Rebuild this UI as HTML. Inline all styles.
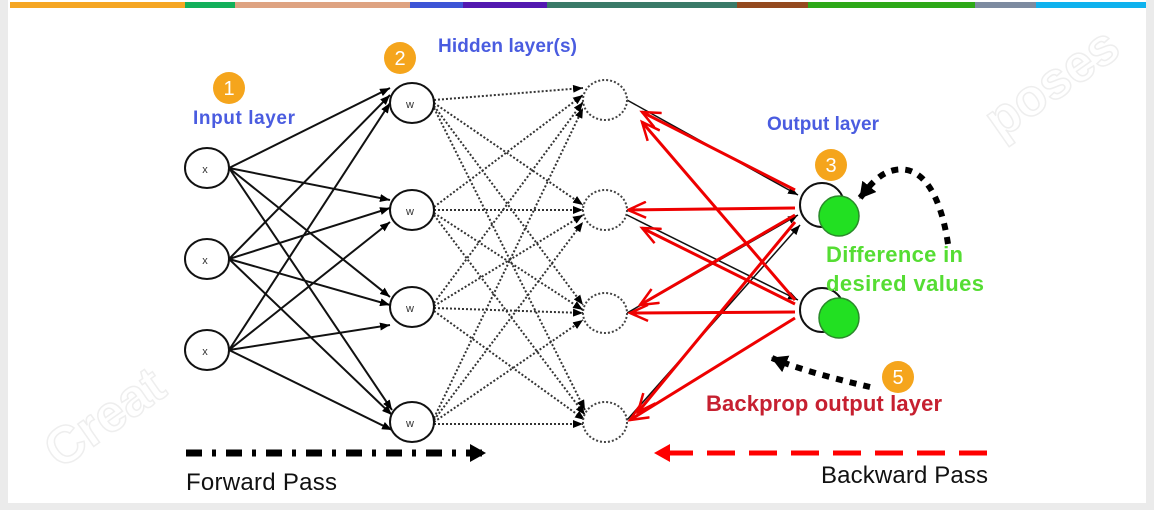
<!DOCTYPE html>
<html><head><style>
body{margin:0;background:#fff;}
.w{position:relative;width:1154px;height:510px;overflow:hidden;font-family:"Liberation Sans",sans-serif;}
</style></head><body><div class="w">
<svg width="1154" height="510" viewBox="0 0 1154 510" xmlns="http://www.w3.org/2000/svg">
<defs>
<marker id="ab" markerWidth="10" markerHeight="8" refX="10" refY="4" orient="auto" markerUnits="userSpaceOnUse"><path d="M0,0 L10,4 L0,8 z" fill="#000"/></marker>
<marker id="ar" markerWidth="22" markerHeight="18" refX="19" refY="9" orient="auto" markerUnits="userSpaceOnUse"><path d="M1,1 L19,9 L1,17" fill="none" stroke="#e00" stroke-width="2.5"/></marker>
<marker id="big" markerWidth="16" markerHeight="18" refX="15" refY="9" orient="auto" markerUnits="userSpaceOnUse"><path d="M0,0 L16,9 L0,18 z" fill="#000"/></marker>
<marker id="bigr" markerWidth="16" markerHeight="18" refX="15" refY="9" orient="auto" markerUnits="userSpaceOnUse"><path d="M0,0 L16,9 L0,18 z" fill="#f00"/></marker>
</defs>
<rect x="0" y="0" width="8" height="510" fill="#ebebeb"/>
<rect x="1146" y="0" width="8" height="510" fill="#ebebeb"/>
<rect x="0" y="503" width="1154" height="7" fill="#ebebeb"/>
<rect x="10" y="2" width="175" height="6" fill="#f5a623"/>
<rect x="185" y="2" width="50" height="6" fill="#13b05a"/>
<rect x="235" y="2" width="175" height="6" fill="#dea382"/>
<rect x="410" y="2" width="53" height="6" fill="#3d55d6"/>
<rect x="463" y="2" width="84" height="6" fill="#5319b0"/>
<rect x="547" y="2" width="190" height="6" fill="#3a7a68"/>
<rect x="737" y="2" width="71" height="6" fill="#944a1f"/>
<rect x="808" y="2" width="167" height="6" fill="#2ea818"/>
<rect x="975" y="2" width="61" height="6" fill="#7d8ba0"/>
<rect x="1036" y="2" width="110" height="6" fill="#0fb2ee"/>
<text x="60" y="470" font-size="52" font-weight="bold" fill="none" stroke="#eee" stroke-width="1.5" transform="rotate(-35 60 470)">Creat</text>
<text x="1000" y="140" font-size="52" font-weight="bold" fill="none" stroke="#eee" stroke-width="1.5" transform="rotate(-35 1000 140)">poses</text>
<g stroke="#111" stroke-width="2" marker-end="url(#ab)">
<line x1="229" y1="168" x2="390" y2="88"/><line x1="229" y1="168" x2="390" y2="200"/><line x1="229" y1="168" x2="390" y2="297"/><line x1="229" y1="168" x2="392" y2="410"/>
<line x1="229" y1="259" x2="390" y2="95"/><line x1="229" y1="259" x2="390" y2="208"/><line x1="229" y1="259" x2="390" y2="305"/><line x1="229" y1="259" x2="392" y2="415"/>
<line x1="229" y1="350" x2="390" y2="103"/><line x1="229" y1="350" x2="390" y2="222"/><line x1="229" y1="350" x2="390" y2="325"/><line x1="229" y1="350" x2="392" y2="430"/>
</g>
<g stroke="#333" stroke-width="2" stroke-dasharray="2,2" marker-end="url(#ab)">
<line x1="434" y1="100" x2="583" y2="88"/><line x1="434" y1="103" x2="583" y2="205"/><line x1="434" y1="106" x2="583" y2="305"/><line x1="434" y1="108" x2="585" y2="410"/>
<line x1="434" y1="207" x2="583" y2="95"/><line x1="434" y1="210" x2="583" y2="210"/><line x1="434" y1="213" x2="583" y2="310"/><line x1="434" y1="215" x2="585" y2="415"/>
<line x1="434" y1="303" x2="583" y2="102"/><line x1="434" y1="306" x2="583" y2="215"/><line x1="434" y1="308" x2="583" y2="313"/><line x1="434" y1="311" x2="585" y2="420"/>
<line x1="434" y1="418" x2="583" y2="108"/><line x1="434" y1="420" x2="583" y2="222"/><line x1="434" y1="422" x2="583" y2="320"/><line x1="434" y1="424" x2="583" y2="424"/>
</g>
<g stroke="#111" stroke-width="1.5" marker-end="url(#ab)">
<line x1="627" y1="100" x2="798" y2="195"/><line x1="627" y1="215" x2="798" y2="300"/><line x1="627" y1="313" x2="798" y2="215"/><line x1="627" y1="420" x2="800" y2="225"/>
</g>
<g stroke="#e00" stroke-width="3" marker-end="url(#ar)">
<line x1="795" y1="190" x2="642" y2="112"/><line x1="795" y1="208" x2="628" y2="210"/><line x1="795" y1="215" x2="640" y2="305"/><line x1="795" y1="222" x2="638" y2="412"/>
<line x1="795" y1="300" x2="642" y2="122"/><line x1="795" y1="304" x2="642" y2="228"/><line x1="795" y1="312" x2="630" y2="313"/><line x1="795" y1="318" x2="630" y2="420"/>
</g>
<g fill="#fff" stroke="#111" stroke-width="2">
<ellipse cx="207" cy="168" rx="22" ry="20"/><ellipse cx="207" cy="259" rx="22" ry="20"/><ellipse cx="207" cy="350" rx="22" ry="20"/>
<ellipse cx="412" cy="103" rx="22" ry="20"/><ellipse cx="412" cy="210" rx="22" ry="20"/><ellipse cx="412" cy="307" rx="22" ry="20"/><ellipse cx="412" cy="422" rx="22" ry="20"/>
</g>
<g fill="#fff" stroke="#444" stroke-width="2" stroke-dasharray="2,2">
<ellipse cx="605" cy="100" rx="22" ry="20"/><ellipse cx="605" cy="210" rx="22" ry="20"/><ellipse cx="605" cy="313" rx="22" ry="20"/><ellipse cx="605" cy="422" rx="22" ry="20"/>
</g>
<g font-size="11" fill="#333" text-anchor="middle">
<text x="205" y="173">x</text><text x="205" y="264">x</text><text x="205" y="355">x</text>
<text x="410" y="108">w</text><text x="410" y="215">w</text><text x="410" y="312">w</text><text x="410" y="427">w</text>
</g>
<g stroke="#111" stroke-width="2" fill="#fff"><circle cx="822" cy="205" r="22"/><circle cx="822" cy="310" r="22"/></g>
<g stroke="#2a8a2a" stroke-width="1.5" fill="#22e022"><circle cx="839" cy="216" r="20"/><circle cx="839" cy="318" r="20"/></g>
<path d="M948,244 C940,190 920,165 895,170 C878,173 868,188 860,198" fill="none" stroke="#000" stroke-width="6" stroke-dasharray="7,7" marker-end="url(#big)"/>
<path d="M870,387 C840,380 800,370 772,358" fill="none" stroke="#000" stroke-width="6" stroke-dasharray="7,7" marker-end="url(#big)"/>
<g fill="#f5a51c"><circle cx="229" cy="88" r="16"/><circle cx="400" cy="58" r="16"/><circle cx="831" cy="165" r="16"/><circle cx="898" cy="377" r="16"/></g>
<g fill="#fff" font-size="20" text-anchor="middle"><text x="229" y="95">1</text><text x="400" y="65">2</text><text x="831" y="172">3</text><text x="898" y="384">5</text></g>
<g font-weight="bold" font-size="19" fill="#4a5ce0">
<text x="193" y="124" textLength="102">Input layer</text><text x="438" y="52" textLength="139">Hidden layer(s)</text><text x="767" y="130" textLength="112">Output layer</text>
</g>
<g font-weight="bold" font-size="22" fill="#55dd33"><text x="826" y="262" textLength="137">Difference in</text><text x="826" y="291" textLength="158">desired values</text></g>
<text x="706" y="411" font-weight="bold" font-size="22" fill="#c62030" textLength="236">Backprop output layer</text>
<line x1="186" y1="453" x2="485" y2="453" stroke="#000" stroke-width="7" stroke-dasharray="16,10,4,10" marker-end="url(#big)"/>
<line x1="987" y1="453" x2="655" y2="453" stroke="#f00" stroke-width="5" stroke-dasharray="28,14" marker-end="url(#bigr)"/>
<text x="186" y="490" font-size="24" fill="#111" textLength="151">Forward Pass</text>
<text x="821" y="483" font-size="24" fill="#111" textLength="167">Backward Pass</text>
</svg>
</div></body></html>
